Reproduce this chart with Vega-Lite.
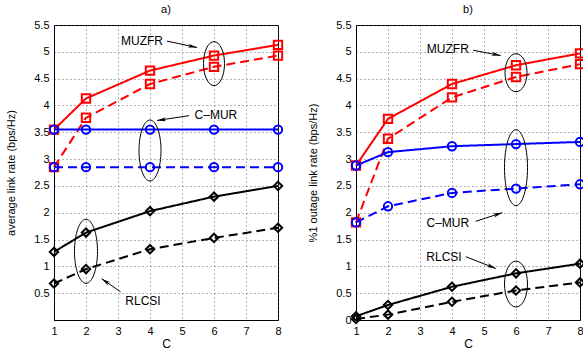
{
  "$schema": "https://vega.github.io/schema/vega-lite/v6.json",
  "padding": {"left": 5, "top": 3, "right": 0, "bottom": 0},
  "background": "white",
  "config": {
    "font": "Liberation Sans",
    "view": {"stroke": "black", "strokeWidth": 1},
    "concat": {"spacing": 20},
    "axis": {
      "grid": true, "gridDash": [1, 3], "gridColor": "#444", "gridOpacity": 0.8,
      "domainColor": "black", "ticks": false, "labelPadding": 5,
      "labelOverlap": false, "labelFlush": false, "labelBound": false,
      "labelFont": "Liberation Sans", "labelFontSize": 11, "labelColor": "black",
      "titleFont": "Liberation Sans", "titleFontSize": 11, "titleFontWeight": "normal", "titleColor": "black"
    },
    "axisX": {"titlePadding": 2, "titleFontSize": 12},
    "axisY": {"titlePadding": 17},
    "title": {"font": "Liberation Sans", "fontSize": 11, "fontWeight": "normal", "offset": 4}
  },
  "datasets": {
    "series": [
      {"p": "a", "s": "MUZFR", "v": "solid", "C": 1, "r": 3.55},
      {"p": "a", "s": "MUZFR", "v": "solid", "C": 2, "r": 4.13},
      {"p": "a", "s": "MUZFR", "v": "solid", "C": 4, "r": 4.65},
      {"p": "a", "s": "MUZFR", "v": "solid", "C": 6, "r": 4.93},
      {"p": "a", "s": "MUZFR", "v": "solid", "C": 8, "r": 5.13},
      {"p": "a", "s": "MUZFR", "v": "dashed", "C": 1, "r": 2.85},
      {"p": "a", "s": "MUZFR", "v": "dashed", "C": 2, "r": 3.77},
      {"p": "a", "s": "MUZFR", "v": "dashed", "C": 4, "r": 4.40},
      {"p": "a", "s": "MUZFR", "v": "dashed", "C": 6, "r": 4.72},
      {"p": "a", "s": "MUZFR", "v": "dashed", "C": 8, "r": 4.93},
      {"p": "a", "s": "C-MUR", "v": "solid", "C": 1, "r": 3.55},
      {"p": "a", "s": "C-MUR", "v": "solid", "C": 2, "r": 3.55},
      {"p": "a", "s": "C-MUR", "v": "solid", "C": 4, "r": 3.55},
      {"p": "a", "s": "C-MUR", "v": "solid", "C": 6, "r": 3.55},
      {"p": "a", "s": "C-MUR", "v": "solid", "C": 8, "r": 3.55},
      {"p": "a", "s": "C-MUR", "v": "dashed", "C": 1, "r": 2.85},
      {"p": "a", "s": "C-MUR", "v": "dashed", "C": 2, "r": 2.85},
      {"p": "a", "s": "C-MUR", "v": "dashed", "C": 4, "r": 2.85},
      {"p": "a", "s": "C-MUR", "v": "dashed", "C": 6, "r": 2.85},
      {"p": "a", "s": "C-MUR", "v": "dashed", "C": 8, "r": 2.85},
      {"p": "a", "s": "RLCSI", "v": "solid", "C": 1, "r": 1.27},
      {"p": "a", "s": "RLCSI", "v": "solid", "C": 2, "r": 1.63},
      {"p": "a", "s": "RLCSI", "v": "solid", "C": 4, "r": 2.03},
      {"p": "a", "s": "RLCSI", "v": "solid", "C": 6, "r": 2.30},
      {"p": "a", "s": "RLCSI", "v": "solid", "C": 8, "r": 2.50},
      {"p": "a", "s": "RLCSI", "v": "dashed", "C": 1, "r": 0.68},
      {"p": "a", "s": "RLCSI", "v": "dashed", "C": 2, "r": 0.95},
      {"p": "a", "s": "RLCSI", "v": "dashed", "C": 4, "r": 1.32},
      {"p": "a", "s": "RLCSI", "v": "dashed", "C": 6, "r": 1.53},
      {"p": "a", "s": "RLCSI", "v": "dashed", "C": 8, "r": 1.72},
      {"p": "b", "s": "MUZFR", "v": "solid", "C": 1, "r": 2.88},
      {"p": "b", "s": "MUZFR", "v": "solid", "C": 2, "r": 3.75},
      {"p": "b", "s": "MUZFR", "v": "solid", "C": 4, "r": 4.40},
      {"p": "b", "s": "MUZFR", "v": "solid", "C": 6, "r": 4.75},
      {"p": "b", "s": "MUZFR", "v": "solid", "C": 8, "r": 4.97},
      {"p": "b", "s": "MUZFR", "v": "dashed", "C": 1, "r": 1.82},
      {"p": "b", "s": "MUZFR", "v": "dashed", "C": 2, "r": 3.38},
      {"p": "b", "s": "MUZFR", "v": "dashed", "C": 4, "r": 4.15},
      {"p": "b", "s": "MUZFR", "v": "dashed", "C": 6, "r": 4.53},
      {"p": "b", "s": "MUZFR", "v": "dashed", "C": 8, "r": 4.77},
      {"p": "b", "s": "C-MUR", "v": "solid", "C": 1, "r": 2.88},
      {"p": "b", "s": "C-MUR", "v": "solid", "C": 2, "r": 3.13},
      {"p": "b", "s": "C-MUR", "v": "solid", "C": 4, "r": 3.24},
      {"p": "b", "s": "C-MUR", "v": "solid", "C": 6, "r": 3.28},
      {"p": "b", "s": "C-MUR", "v": "solid", "C": 8, "r": 3.32},
      {"p": "b", "s": "C-MUR", "v": "dashed", "C": 1, "r": 1.82},
      {"p": "b", "s": "C-MUR", "v": "dashed", "C": 2, "r": 2.12},
      {"p": "b", "s": "C-MUR", "v": "dashed", "C": 4, "r": 2.37},
      {"p": "b", "s": "C-MUR", "v": "dashed", "C": 6, "r": 2.45},
      {"p": "b", "s": "C-MUR", "v": "dashed", "C": 8, "r": 2.53},
      {"p": "b", "s": "RLCSI", "v": "solid", "C": 1, "r": 0.07},
      {"p": "b", "s": "RLCSI", "v": "solid", "C": 2, "r": 0.28},
      {"p": "b", "s": "RLCSI", "v": "solid", "C": 4, "r": 0.62},
      {"p": "b", "s": "RLCSI", "v": "solid", "C": 6, "r": 0.87},
      {"p": "b", "s": "RLCSI", "v": "solid", "C": 8, "r": 1.05},
      {"p": "b", "s": "RLCSI", "v": "dashed", "C": 1, "r": 0.02},
      {"p": "b", "s": "RLCSI", "v": "dashed", "C": 2, "r": 0.10},
      {"p": "b", "s": "RLCSI", "v": "dashed", "C": 4, "r": 0.34},
      {"p": "b", "s": "RLCSI", "v": "dashed", "C": 6, "r": 0.55},
      {"p": "b", "s": "RLCSI", "v": "dashed", "C": 8, "r": 0.70}
    ],
    "labels": [
      {"p": "a", "label": "MUZFR", "C": 3.75, "r": 5.2},
      {"p": "a", "label": "C–MUR", "C": 6.06, "r": 3.83},
      {"p": "a", "label": "RLCSI", "C": 3.78, "r": 0.35},
      {"p": "b", "label": "MUZFR", "C": 3.87, "r": 5.06},
      {"p": "b", "label": "C–MUR", "C": 3.87, "r": 1.81},
      {"p": "b", "label": "RLCSI", "C": 3.75, "r": 1.18}
    ],
    "arrows": [
      {"p": "a", "C0": 4.53, "r0": 5.2, "C": 5.47, "r": 5.08},
      {"p": "a", "C0": 5.22, "r0": 3.81, "C": 4.22, "r": 3.72},
      {"p": "a", "C0": 3.08, "r0": 0.525, "C": 2.49, "r": 0.77},
      {"p": "b", "C0": 4.66, "r0": 5.03, "C": 5.52, "r": 4.93},
      {"p": "b", "C0": 4.74, "r0": 1.84, "C": 5.57, "r": 2.0},
      {"p": "b", "C0": 4.43, "r0": 1.18, "C": 5.37, "r": 0.96}
    ],
    "rings": [
      {"p": "a", "ring": "a-MUZFR", "C": 6, "r": 4.78},
      {"p": "a", "ring": "a-CMUR", "C": 4, "r": 3.16},
      {"p": "a", "ring": "a-RLCSI", "C": 2, "r": 1.28},
      {"p": "b", "ring": "b-MUZFR", "C": 6, "r": 4.61},
      {"p": "b", "ring": "b-CMUR", "C": 6, "r": 2.84},
      {"p": "b", "ring": "b-RLCSI", "C": 6, "r": 0.67}
    ]
  },
  "hconcat": [
    {
      "width": 224, "height": 295,
      "title": "a)",
      "resolve": {"scale": {"shape": "independent"}},
      "encoding": {
        "x": {"field": "C", "type": "quantitative", "title": "C", "scale": {"domain": [1, 8], "nice": false, "zero": false}, "axis": {"values": [1, 2, 3, 4, 5, 6, 7, 8], "labelOverlap": false, "labelFlush": false}},
        "y": {"field": "r", "type": "quantitative", "title": "average link rate (bps/Hz)", "scale": {"domain": [0, 5.5], "nice": false}, "axis": {"values": [0.5, 1, 1.5, 2, 2.5, 3, 3.5, 4, 4.5, 5, 5.5], "format": "~g", "labelOverlap": false, "labelFlush": false}}
      },
      "layer": [
        {
          "data": {"name": "series"},
          "transform": [{"filter": "datum.p === 'a'"}],
          "mark": {"type": "line", "strokeWidth": 2},
          "encoding": {
            "color": {"field": "s", "type": "nominal", "scale": {"domain": ["MUZFR", "C-MUR", "RLCSI"], "range": ["#ff0000", "#0000ff", "#000000"]}, "legend": null},
            "strokeDash": {"field": "v", "type": "nominal", "scale": {"domain": ["solid", "dashed"], "range": [[1, 0], [9, 5]]}, "legend": null}
          }
        },
        {
          "data": {"name": "series"},
          "transform": [{"filter": "datum.p === 'a'"}],
          "mark": {"type": "point", "filled": false, "strokeWidth": 2, "size": 70, "opacity": 1},
          "encoding": {
            "color": {"field": "s", "type": "nominal", "scale": {"domain": ["MUZFR", "C-MUR", "RLCSI"], "range": ["#ff0000", "#0000ff", "#000000"]}, "legend": null},
            "shape": {"field": "s", "type": "nominal", "scale": {"domain": ["MUZFR", "C-MUR", "RLCSI"], "range": ["square", "circle", "diamond"]}, "legend": null}
          }
        },
        {
          "data": {"name": "rings"},
          "transform": [{"filter": "datum.p === 'a'"}],
          "mark": {"type": "point", "filled": false, "size": 4, "stroke": "black", "strokeWidth": 1, "opacity": 1},
          "encoding": {
            "shape": {"field": "ring", "type": "nominal", "legend": null, "scale": {
              "domain": ["a-MUZFR", "a-CMUR", "a-RLCSI", "b-MUZFR", "b-CMUR", "b-RLCSI"],
              "range": [
                "M0,-22C5.8,-22 10.5,-12.15 10.5,0C10.5,12.15 5.8,22 0,22C-5.8,22 -10.5,12.15 -10.5,0C-10.5,-12.15 -5.8,-22 0,-22Z",
                "M0,-30.5C6.08,-30.5 11,-16.85 11,0C11,16.85 6.08,30.5 0,30.5C-6.08,30.5 -11,16.85 -11,0C-11,-16.85 -6.08,-30.5 0,-30.5Z",
                "M0,-32C6.35,-32 11.5,-17.67 11.5,0C11.5,17.67 6.35,32 0,32C-6.35,32 -11.5,17.67 -11.5,0C-11.5,-17.67 -6.35,-32 0,-32Z",
                "M0,-19C6.08,-19 11,-10.49 11,0C11,10.49 6.08,19 0,19C-6.08,19 -11,10.49 -11,0C-11,-10.49 -6.08,-19 0,-19Z",
                "M0,-38C6.35,-38 11.5,-20.99 11.5,0C11.5,20.99 6.35,38 0,38C-6.35,38 -11.5,20.99 -11.5,0C-11.5,-20.99 -6.35,-38 0,-38Z",
                "M0,-23C6.35,-23 11.5,-12.7 11.5,0C11.5,12.7 6.35,23 0,23C-6.35,23 -11.5,12.7 -11.5,0C-11.5,-12.7 -6.35,-23 0,-23Z"
              ]}}
          }
        },
        {
          "data": {"name": "arrows"},
          "transform": [{"filter": "datum.p === 'a'"}],
          "mark": {"type": "rule", "color": "black", "strokeWidth": 1},
          "encoding": {"x2": {"field": "C0"}, "y2": {"field": "r0"}}
        },
        {
          "data": {"name": "arrows"},
          "transform": [{"filter": "datum.p === 'a'"}, {"calculate": "atan2((datum.C - datum.C0) * 32, (datum.r - datum.r0) * 53.7) * 180 / PI", "as": "ang"}],
          "mark": {"type": "point", "shape": "M0,0L0.45,2L0,1.5L-0.45,2Z", "size": 81, "filled": true, "color": "black", "opacity": 1},
          "encoding": {"angle": {"field": "ang", "type": "quantitative", "scale": null}}
        },
        {
          "data": {"name": "labels"},
          "transform": [{"filter": "datum.p === 'a'"}],
          "mark": {"type": "text", "font": "Liberation Sans", "fontSize": 12, "color": "black", "align": "center", "baseline": "middle"},
          "encoding": {"text": {"field": "label"}}
        }
      ]
    },
    {
      "width": 224, "height": 295,
      "title": "b)",
      "resolve": {"scale": {"shape": "independent"}},
      "encoding": {
        "x": {"field": "C", "type": "quantitative", "title": "C", "scale": {"domain": [1, 8], "nice": false, "zero": false}, "axis": {"values": [1, 2, 3, 4, 5, 6, 7, 8], "labelOverlap": false, "labelFlush": false}},
        "y": {"field": "r", "type": "quantitative", "title": "%1 outage link rate (bps/Hz)", "scale": {"domain": [0, 5.5], "nice": false}, "axis": {"values": [0, 0.5, 1, 1.5, 2, 2.5, 3, 3.5, 4, 4.5, 5, 5.5], "format": "~g", "labelOverlap": false, "labelFlush": false}}
      },
      "layer": [
        {
          "data": {"name": "series"},
          "transform": [{"filter": "datum.p === 'b'"}],
          "mark": {"type": "line", "strokeWidth": 2},
          "encoding": {
            "color": {"field": "s", "type": "nominal", "scale": {"domain": ["MUZFR", "C-MUR", "RLCSI"], "range": ["#ff0000", "#0000ff", "#000000"]}, "legend": null},
            "strokeDash": {"field": "v", "type": "nominal", "scale": {"domain": ["solid", "dashed"], "range": [[1, 0], [9, 5]]}, "legend": null}
          }
        },
        {
          "data": {"name": "series"},
          "transform": [{"filter": "datum.p === 'b'"}],
          "mark": {"type": "point", "filled": false, "strokeWidth": 2, "size": 70, "opacity": 1},
          "encoding": {
            "color": {"field": "s", "type": "nominal", "scale": {"domain": ["MUZFR", "C-MUR", "RLCSI"], "range": ["#ff0000", "#0000ff", "#000000"]}, "legend": null},
            "shape": {"field": "s", "type": "nominal", "scale": {"domain": ["MUZFR", "C-MUR", "RLCSI"], "range": ["square", "circle", "diamond"]}, "legend": null}
          }
        },
        {
          "data": {"name": "rings"},
          "transform": [{"filter": "datum.p === 'b'"}],
          "mark": {"type": "point", "filled": false, "size": 4, "stroke": "black", "strokeWidth": 1, "opacity": 1},
          "encoding": {
            "shape": {"field": "ring", "type": "nominal", "legend": null, "scale": {
              "domain": ["a-MUZFR", "a-CMUR", "a-RLCSI", "b-MUZFR", "b-CMUR", "b-RLCSI"],
              "range": [
                "M0,-22C5.8,-22 10.5,-12.15 10.5,0C10.5,12.15 5.8,22 0,22C-5.8,22 -10.5,12.15 -10.5,0C-10.5,-12.15 -5.8,-22 0,-22Z",
                "M0,-30.5C6.08,-30.5 11,-16.85 11,0C11,16.85 6.08,30.5 0,30.5C-6.08,30.5 -11,16.85 -11,0C-11,-16.85 -6.08,-30.5 0,-30.5Z",
                "M0,-32C6.35,-32 11.5,-17.67 11.5,0C11.5,17.67 6.35,32 0,32C-6.35,32 -11.5,17.67 -11.5,0C-11.5,-17.67 -6.35,-32 0,-32Z",
                "M0,-19C6.08,-19 11,-10.49 11,0C11,10.49 6.08,19 0,19C-6.08,19 -11,10.49 -11,0C-11,-10.49 -6.08,-19 0,-19Z",
                "M0,-38C6.35,-38 11.5,-20.99 11.5,0C11.5,20.99 6.35,38 0,38C-6.35,38 -11.5,20.99 -11.5,0C-11.5,-20.99 -6.35,-38 0,-38Z",
                "M0,-23C6.35,-23 11.5,-12.7 11.5,0C11.5,12.7 6.35,23 0,23C-6.35,23 -11.5,12.7 -11.5,0C-11.5,-12.7 -6.35,-23 0,-23Z"
              ]}}
          }
        },
        {
          "data": {"name": "arrows"},
          "transform": [{"filter": "datum.p === 'b'"}],
          "mark": {"type": "rule", "color": "black", "strokeWidth": 1},
          "encoding": {"x2": {"field": "C0"}, "y2": {"field": "r0"}}
        },
        {
          "data": {"name": "arrows"},
          "transform": [{"filter": "datum.p === 'b'"}, {"calculate": "atan2((datum.C - datum.C0) * 32, (datum.r - datum.r0) * 53.6) * 180 / PI", "as": "ang"}],
          "mark": {"type": "point", "shape": "M0,0L0.45,2L0,1.5L-0.45,2Z", "size": 81, "filled": true, "color": "black", "opacity": 1},
          "encoding": {"angle": {"field": "ang", "type": "quantitative", "scale": null}}
        },
        {
          "data": {"name": "labels"},
          "transform": [{"filter": "datum.p === 'b'"}],
          "mark": {"type": "text", "font": "Liberation Sans", "fontSize": 12, "color": "black", "align": "center", "baseline": "middle"},
          "encoding": {"text": {"field": "label"}}
        }
      ]
    }
  ]
}
